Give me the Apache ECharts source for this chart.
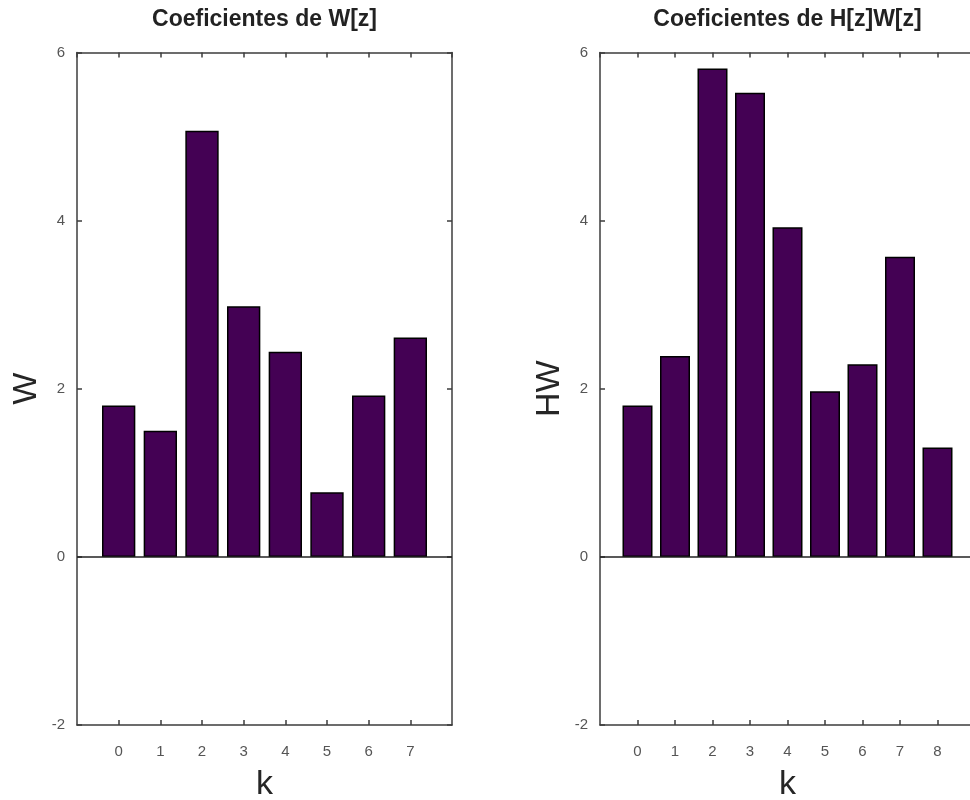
<!DOCTYPE html>
<html>
<head>
<meta charset="utf-8">
<script src="https://cdn.jsdelivr.net/npm/echarts@6/dist/echarts.min.js"></script>
<style>
  html, body { margin: 0; padding: 0; background: #ffffff; }
  #chart { width: 970px; height: 800px; }
</style>
</head>
<body>
<div id="chart"></div>
<script>
// Coefficients of W[z] and of the product H[z]W[z], indexed by k
const kLeft = [0, 1, 2, 3, 4, 5, 6, 7];
const wValues = [1.80, 1.50, 5.07, 2.98, 2.44, 0.77, 1.92, 2.61];

const kRight = [0, 1, 2, 3, 4, 5, 6, 7, 8];
const hwValues = [1.80, 2.39, 5.81, 5.52, 3.92, 1.97, 2.29, 3.57, 1.30];

const yTicks = [-2, 0, 2, 4, 6];

const titles = ['Coeficientes de W[z]', 'Coeficientes de H[z]W[z]'];
const yNames = ['W', 'HW'];
const xName = 'k';

const FONT = '"Liberation Sans", Arial, sans-serif';
const AXIS_COLOR = '#3c3c3c';
const LABEL_COLOR = '#555555';
const BAR_COLOR = '#440154';

// The second panel runs a few pixels past the right edge of the page
const grids = [
  { left: 77, top: 52.5, width: 375, height: 672.5, outerBoundsMode: 'none', containLabel: false },
  { left: 600, top: 52.5, right: -5, height: 672.5, outerBoundsMode: 'none', containLabel: false }
];
const gridCenters = [77 + 375 / 2, 600 + 375 / 2];

function xAxesFor(gridIndex, ks) {
  const lo = ks[0] - 1, hi = ks[ks.length - 1] + 1;
  const base = {
    type: 'value', gridIndex, min: lo, max: hi, interval: 1,
    splitLine: { show: false },
    axisLine: { show: true, onZero: false, lineStyle: { color: AXIS_COLOR, width: 1.5 } },
    axisTick: { show: true, inside: true, length: 5, lineStyle: { color: AXIS_COLOR, width: 1.5 } }
  };
  return [
    Object.assign({}, base, {
      position: 'bottom',
      name: xName, nameLocation: 'middle', nameGap: 43,
      nameTextStyle: { fontFamily: FONT, fontSize: 34, color: '#262626' },
      axisLabel: {
        show: true, margin: 19, fontFamily: FONT, fontSize: 15, color: LABEL_COLOR,
        showMinLabel: false, showMaxLabel: false,
        formatter: v => (ks.indexOf(v) >= 0 ? String(v) : '')
      }
    }),
    Object.assign({}, base, { position: 'top', axisLabel: { show: false } })
  ];
}

function yAxesFor(gridIndex, name) {
  const base = {
    type: 'value', gridIndex,
    min: yTicks[0], max: yTicks[yTicks.length - 1], interval: 2,
    splitLine: { show: false },
    axisLine: { show: true, onZero: false, lineStyle: { color: AXIS_COLOR, width: 1.5 } },
    axisTick: { show: true, inside: true, length: 5, lineStyle: { color: AXIS_COLOR, width: 1.5 } }
  };
  return [
    Object.assign({}, base, {
      position: 'left',
      name: name, nameLocation: 'middle', nameGap: 33, nameRotate: 90,
      nameTextStyle: { fontFamily: FONT, fontSize: 34, color: '#262626' },
      axisLabel: {
        show: true, margin: 12, fontFamily: FONT, fontSize: 15, color: LABEL_COLOR,
        formatter: v => (yTicks.indexOf(v) >= 0 ? String(v) : '')
      }
    }),
    Object.assign({}, base, { position: 'right', axisLabel: { show: false } })
  ];
}

function barSeries(idx, ks, values) {
  return {
    type: 'bar',
    xAxisIndex: idx * 2,
    yAxisIndex: idx * 2,
    barWidth: '80%',
    data: ks.map((k, i) => [k, values[i]]),
    itemStyle: { color: BAR_COLOR, borderColor: '#000000', borderWidth: 1.5 },
    silent: true,
    markLine: {
      silent: true,
      symbol: 'none',
      label: { show: false },
      lineStyle: { color: '#222222', width: 1.5, type: 'solid' },
      data: [{ yAxis: 0 }]
    }
  };
}

const chart = echarts.init(document.getElementById('chart'), null, { renderer: 'canvas' });
chart.setOption({
  animation: false,
  backgroundColor: '#ffffff',
  title: titles.map((t, i) => ({
    text: t,
    left: gridCenters[i],
    top: 8,
    padding: 0,
    textAlign: 'center',
    textStyle: { fontFamily: FONT, fontSize: 23, fontWeight: 'bold', color: '#222222' }
  })),
  grid: grids,
  xAxis: [].concat(xAxesFor(0, kLeft), xAxesFor(1, kRight)),
  yAxis: [].concat(yAxesFor(0, yNames[0]), yAxesFor(1, yNames[1])),
  series: [barSeries(0, kLeft, wValues), barSeries(1, kRight, hwValues)]
});
</script>
</body>
</html>
